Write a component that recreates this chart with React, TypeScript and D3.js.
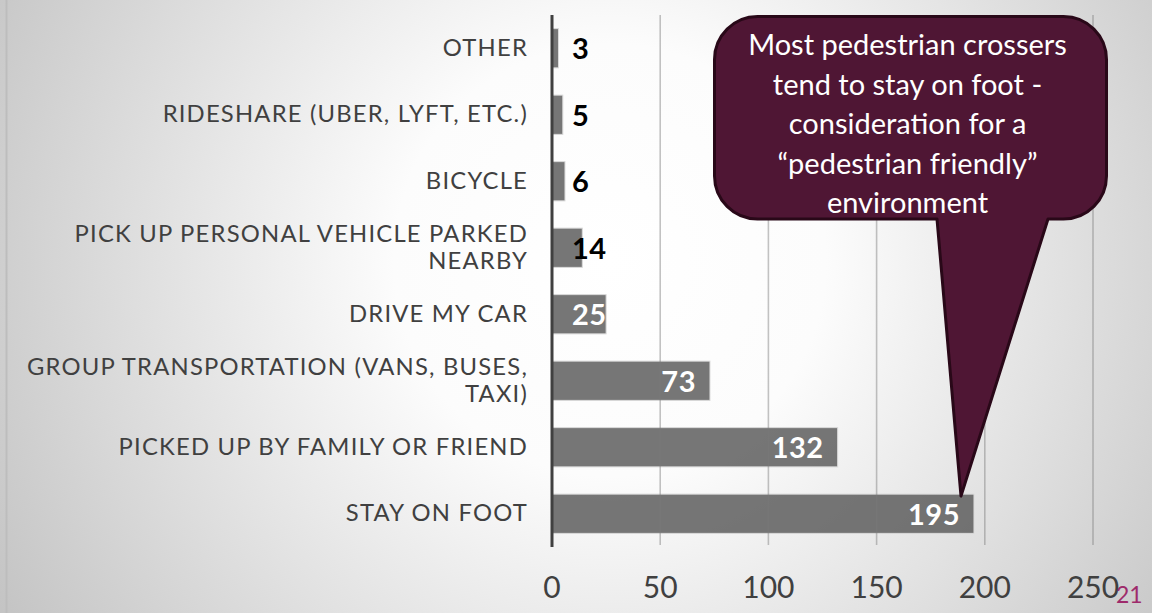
import React from "react";
import * as d3 from "d3";

const categories = [
  "OTHER",
  "RIDESHARE (UBER, LYFT, ETC.)",
  "BICYCLE",
  "PICK UP PERSONAL VEHICLE PARKED NEARBY",
  "DRIVE MY CAR",
  "GROUP TRANSPORTATION (VANS, BUSES, TAXI)",
  "PICKED UP BY FAMILY OR FRIEND",
  "STAY ON FOOT",
];
const categoryLines: string[][] = [
  ["OTHER"],
  ["RIDESHARE (UBER, LYFT, ETC.)"],
  ["BICYCLE"],
  ["PICK UP PERSONAL VEHICLE PARKED", "NEARBY"],
  ["DRIVE MY CAR"],
  ["GROUP TRANSPORTATION (VANS, BUSES,", "TAXI)"],
  ["PICKED UP BY FAMILY OR FRIEND"],
  ["STAY ON FOOT"],
];
const values = [3, 5, 6, 14, 25, 73, 132, 195];
const xTicks = [0, 50, 100, 150, 200, 250];
const calloutLines = [
  "Most pedestrian crossers",
  "tend to stay on foot -",
  "consideration for a",
  "\u201cpedestrian friendly\u201d",
  "environment",
];
const pageNumber = "21";

const W = 1152;
const H = 613;
const FONT = "Lato, 'Open Sans', sans-serif";

export default function App() {
  const x = d3.scaleLinear().domain([0, 250]).range([552, 1093]);
  const y = d3
    .scaleBand<string>()
    .domain(categories)
    .range([15, 547])
    .paddingInner(0.41)
    .paddingOuter(0.205);
  const bw = y.bandwidth();

  // callout geometry
  const bx0 = 714.5, by0 = 16.5, bx1 = 1106.5, by1 = 219, r = 43;
  const wl = 937, wr = 1048;
  const tipX = x(189);
  const tipY = (y("STAY ON FOOT") as number) + 2;
  const calloutPath = [
    `M${bx0 + r},${by0}`,
    `H${bx1 - r}`,
    `A${r},${r} 0 0 1 ${bx1},${by0 + r}`,
    `V${by1 - r}`,
    `A${r},${r} 0 0 1 ${bx1 - r},${by1}`,
    `H${wr}`,
    `L${tipX},${tipY}`,
    `L${wl},${by1}`,
    `H${bx0 + r}`,
    `A${r},${r} 0 0 1 ${bx0},${by1 - r}`,
    `V${by0 + r}`,
    `A${r},${r} 0 0 1 ${bx0 + r},${by0}`,
    "Z",
  ].join(" ");

  const labelSize = 29;
  const minStart = x(0) + 20;

  return (
    <svg
      width={W}
      height={H}
      style={{ position: "absolute", left: 0, top: 0, display: "block" }}
      fontFamily={FONT}
    >
      <defs>
        <radialGradient id="bg" gradientUnits="userSpaceOnUse" cx={610} cy={260} r={720}>
          <stop offset="0" stopColor="#ffffff" />
          <stop offset="0.3" stopColor="#fcfcfc" />
          <stop offset="1" stopColor="#c2c2c2" />
        </radialGradient>
      </defs>
      <rect x={0} y={0} width={W} height={H} fill="url(#bg)" />
      <line x1={6.5} x2={6.5} y1={0} y2={H} stroke="#bdbdbd" strokeWidth={2} />

      {/* bars */}
      {categories.map((c, i) => (
        <rect
          key={c}
          x={x(0)}
          y={y(c)}
          width={x(values[i]) - x(0)}
          height={bw}
          fill="#5c5c5c"
          fillOpacity={0.84}
          stroke="#dadada"
          strokeWidth={1}
        />
      ))}

      {/* gridlines */}
      {xTicks.slice(1).map((t) => (
        <line
          key={t}
          x1={x(t)}
          x2={x(t)}
          y1={15}
          y2={545}
          stroke="#7a7a7a"
          strokeOpacity={0.45}
          strokeWidth={1.6}
        />
      ))}

      {/* axis */}
      <line x1={x(0)} x2={x(0)} y1={15} y2={547} stroke="#404040" strokeWidth={3} />

      {/* tick labels */}
      {xTicks.map((t) => (
        <text key={t} x={x(t)} y={598} textAnchor="middle" fontSize={30} fill="#404040">
          {t}
        </text>
      ))}

      {/* category labels */}
      {categories.map((c, i) => {
        const cy = (y(c) as number) + bw / 2;
        const lines = categoryLines[i];
        const lh = 26.5;
        return (
          <text
            key={c}
            x={528}
            textAnchor="end"
            fontSize={23.8}
            letterSpacing={1.2}
            fill="#404040"
          >
            {lines.map((l, j) => (
              <tspan key={j} x={528} y={cy + 7.5 + (j - (lines.length - 1) / 2) * lh}>
                {l}
              </tspan>
            ))}
          </text>
        );
      })}

      {/* value labels: inside end, clamped near the base when too short */}
      {categories.map((c, i) => {
        const v = values[i];
        const estW = String(v).length * 0.56 * labelSize;
        const endX = x(v) - 14;
        const clamped = endX - estW < minStart;
        const startX = clamped ? minStart : endX - estW;
        const fits = startX + estW <= x(v) + 2;
        const cy = (y(c) as number) + bw / 2;
        return (
          <text
            key={c}
            x={clamped ? minStart : endX}
            y={cy + 11}
            textAnchor={clamped ? "start" : "end"}
            fontSize={labelSize}
            fontWeight="bold"
            letterSpacing={0.5}
            fill={fits ? "#ffffff" : "#000000"}
          >
            {v}
          </text>
        );
      })}

      {/* callout */}
      <path d={calloutPath} fill="#4f1634" stroke="#290818" strokeWidth={3} strokeLinejoin="round" />
      {calloutLines.map((l, i) => (
        <text
          key={i}
          x={(bx0 + bx1) / 2 - 3}
          y={55 + i * 39.5}
          textAnchor="middle"
          fontSize={29}
          fill="#ffffff"
        >
          {l}
        </text>
      ))}

      <text x={1116} y={603} fontSize={23} fill="#9e2a6b">
        {pageNumber}
      </text>
    </svg>
  );
}
